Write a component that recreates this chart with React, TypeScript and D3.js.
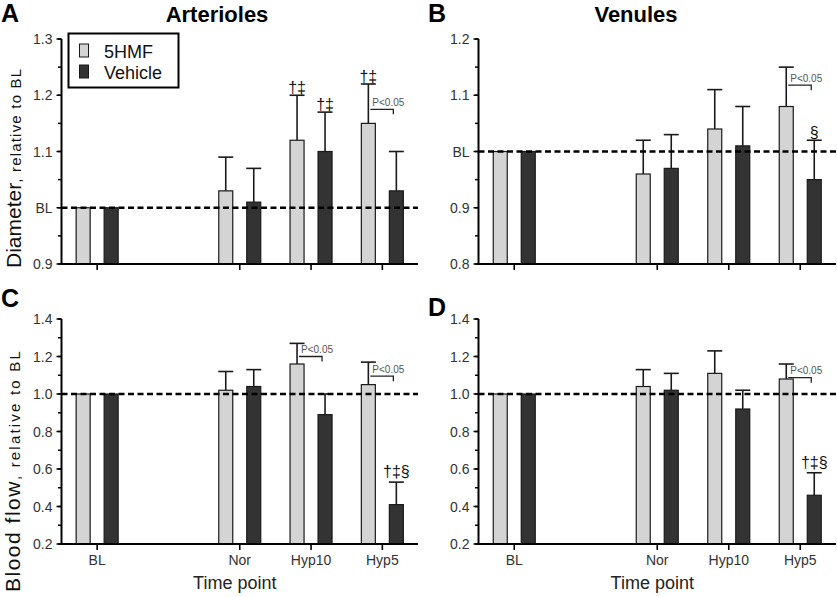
import React from "react";
import * as d3 from "d3";

// ---------- data ----------
const categories = ["BL", "Nor", "Hyp10", "Hyp5"];
const slots = ["BL", "gap", "Nor", "Hyp10", "Hyp5"];
const seriesNames = ["5HMF", "Vehicle"];

const artDiam5HMF = [1.0, 1.03, 1.12, 1.15];
const artDiam5HMFErr = [0, 0.06, 0.08, 0.07];
const artDiamVehicle = [1.0, 1.01, 1.1, 1.03];
const artDiamVehicleErr = [0, 0.06, 0.07, 0.07];

const venDiam5HMF = [1.0, 0.96, 1.04, 1.08];
const venDiam5HMFErr = [0, 0.06, 0.07, 0.07];
const venDiamVehicle = [1.0, 0.97, 1.01, 0.95];
const venDiamVehicleErr = [0, 0.06, 0.07, 0.07];

const artFlow5HMF = [1.0, 1.02, 1.16, 1.05];
const artFlow5HMFErr = [0, 0.1, 0.11, 0.12];
const artFlowVehicle = [1.0, 1.04, 0.89, 0.41];
const artFlowVehicleErr = [0, 0.09, 0.11, 0.12];

const venFlow5HMF = [1.0, 1.04, 1.11, 1.08];
const venFlow5HMFErr = [0, 0.09, 0.12, 0.08];
const venFlowVehicle = [1.0, 1.02, 0.92, 0.46];
const venFlowVehicleErr = [0, 0.09, 0.1, 0.12];

const diamTicksA = [0.9, 1.0, 1.1, 1.2, 1.3];
const diamTickLabelsA = ["0.9", "BL", "1.1", "1.2", "1.3"];
const diamTicksB = [0.8, 0.9, 1.0, 1.1, 1.2];
const diamTickLabelsB = ["0.8", "0.9", "BL", "1.1", "1.2"];
const flowTicks = [0.2, 0.4, 0.6, 0.8, 1.0, 1.2, 1.4];
const flowTickLabels = ["0.2", "0.4", "0.6", "0.8", "1.0", "1.2", "1.4"];

const symbolsA = [
  { cat: "Hyp10", s: 0, text: "†‡" },
  { cat: "Hyp10", s: 1, text: "†‡" },
  { cat: "Hyp5", s: 0, text: "†‡" },
];
const symbolsB = [{ cat: "Hyp5", s: 1, text: "§" }];
const symbolsC = [{ cat: "Hyp5", s: 1, text: "†‡§" }];
const symbolsD = [{ cat: "Hyp5", s: 1, text: "†‡§" }];

const bracketsA = [{ cat: "Hyp5", y: 1.175 }];
const bracketsB = [{ cat: "Hyp5", y: 1.118 }];
const bracketsC = [
  { cat: "Hyp10", y: 1.2 },
  { cat: "Hyp5", y: 1.095 },
];
const bracketsD = [{ cat: "Hyp5", y: 1.087 }];

// ---------- layout ----------
const FONT = "'Liberation Sans', Arial, Helvetica, sans-serif";
const GRAY = "#d4d4d4";
const DARK = "#333333";
const INK = "#111";

type Panel = {
  letter: string;
  letterX: number;
  letterY: number;
  title?: string;
  titleX?: number;
  x0: number;
  x1: number;
  yTop: number;
  yBot: number;
  domain: [number, number];
  ticks: number[];
  tickLabels: string[];
  minorStep: number;
  values: number[][];
  errs: number[][];
  symbols: { cat: string; s: number; text: string }[];
  symOffset: number;
  brackets: { cat: string; y: number }[];
  showXLabels: boolean;
  legend?: boolean;
};

const panels: Panel[] = [
  {
    letter: "A", letterX: 1, letterY: 22, title: "Arterioles", titleX: 217,
    x0: 61.5, x1: 418, yTop: 39, yBot: 264, domain: [0.9, 1.3],
    ticks: diamTicksA, tickLabels: diamTickLabelsA, minorStep: 0.05,
    values: [artDiam5HMF, artDiamVehicle], errs: [artDiam5HMFErr, artDiamVehicleErr],
    symbols: symbolsA, symOffset: 2, brackets: bracketsA, showXLabels: false, legend: true,
  },
  {
    letter: "B", letterX: 428, letterY: 22, title: "Venules", titleX: 636,
    x0: 478.5, x1: 836, yTop: 39, yBot: 264, domain: [0.8, 1.2],
    ticks: diamTicksB, tickLabels: diamTickLabelsB, minorStep: 0.05,
    values: [venDiam5HMF, venDiamVehicle], errs: [venDiam5HMFErr, venDiamVehicleErr],
    symbols: symbolsB, symOffset: 2, brackets: bracketsB, showXLabels: false,
  },
  {
    letter: "C", letterX: 1, letterY: 307,
    x0: 61.5, x1: 418, yTop: 319, yBot: 544, domain: [0.2, 1.4],
    ticks: flowTicks, tickLabels: flowTickLabels, minorStep: 0.1,
    values: [artFlow5HMF, artFlowVehicle], errs: [artFlow5HMFErr, artFlowVehicleErr],
    symbols: symbolsC, symOffset: 5, brackets: bracketsC, showXLabels: true,
  },
  {
    letter: "D", letterX: 428, letterY: 316,
    x0: 478.5, x1: 836, yTop: 319, yBot: 544, domain: [0.2, 1.4],
    ticks: flowTicks, tickLabels: flowTickLabels, minorStep: 0.1,
    values: [venFlow5HMF, venFlowVehicle], errs: [venFlow5HMFErr, venFlowVehicleErr],
    symbols: symbolsD, symOffset: 5, brackets: bracketsD, showXLabels: true,
  },
];

function PanelView({ p }: { p: Panel }) {
  const x = d3.scaleBand<string>().domain(slots).range([p.x0, p.x1]);
  const inner = d3
    .scaleBand<string>()
    .domain(seriesNames)
    .range([-28, 28])
    .paddingInner(0.5)
    .paddingOuter(0.25);
  const y = d3.scaleLinear().domain(p.domain).range([p.yBot, p.yTop]);
  const center = (c: string) => (x(c) as number) + x.bandwidth() / 2;
  const barCenter = (c: string, s: number) =>
    center(c) + (inner(seriesNames[s]) as number) + inner.bandwidth() / 2;

  const minor = d3.range(p.domain[0], p.domain[1] + 1e-9, p.minorStep);
  const bw = inner.bandwidth();

  return (
    <g>
      <text x={p.letterX} y={p.letterY} fontSize={25} fontWeight="bold" fontFamily={FONT} fill="#000">
        {p.letter}
      </text>
      {p.title && (
        <text x={p.titleX} y={22} fontSize={22} fontWeight="bold" fontFamily={FONT} textAnchor="middle" fill="#000">
          {p.title}
        </text>
      )}

      {/* bars */}
      {categories.map((c, i) =>
        seriesNames.map((sn, s) => {
          const v = p.values[s][i];
          const bx = center(c) + (inner(sn) as number);
          return (
            <rect
              key={c + sn}
              x={bx}
              y={y(v)}
              width={bw}
              height={p.yBot - y(v)}
              fill={s === 0 ? GRAY : DARK}
              stroke="#1a1a1a"
              strokeWidth={1.2}
            />
          );
        })
      )}

      {/* error bars */}
      {categories.map((c, i) =>
        seriesNames.map((sn, s) => {
          const e = p.errs[s][i];
          if (!e) return null;
          const v = p.values[s][i];
          const cx = barCenter(c, s);
          return (
            <g key={"e" + c + sn} stroke="#1a1a1a" strokeWidth={1.6}>
              <line x1={cx} x2={cx} y1={y(v)} y2={y(v + e)} />
              <line x1={cx - bw / 2 - 0.5} x2={cx + bw / 2 + 0.5} y1={y(v + e)} y2={y(v + e)} />
            </g>
          );
        })
      )}

      {/* baseline dashed line */}
      <line x1={p.x0} x2={p.x1} y1={y(1)} y2={y(1)} stroke="#000" strokeWidth={2.4} strokeDasharray="6,3.5" />

      {/* symbols */}
      {p.symbols.map((sy, k) => {
        const i = categories.indexOf(sy.cat);
        const top = p.values[sy.s][i] + p.errs[sy.s][i];
        return (
          <text
            key={"sy" + k}
            x={barCenter(sy.cat, sy.s)}
            y={y(top) - p.symOffset}
            fontSize={16}
            fontFamily={FONT}
            textAnchor="middle"
            fill="#111"
          >
            {sy.text}
          </text>
        );
      })}

      {/* brackets */}
      {p.brackets.map((b, k) => {
        const xs = barCenter(b.cat, 0) + 2;
        const xe = barCenter(b.cat, 1) - 3;
        const yy = y(b.y);
        return (
          <g key={"b" + k}>
            <path d={`M${xs},${yy}H${xe}V${yy + 5}`} fill="none" stroke="#222" strokeWidth={1.3} />
            <text x={xs + 2} y={yy - 3.5} fontSize={10} fontFamily={FONT} fill="#555">
              P&lt;0.05
            </text>
          </g>
        );
      })}

      {/* y axis */}
      <line x1={p.x0} x2={p.x0} y1={p.yTop} y2={p.yBot + 1} stroke="#000" strokeWidth={2} />
      {minor.map((t, k) => (
        <line key={"m" + k} x1={p.x0 - 3.5} x2={p.x0} y1={y(t)} y2={y(t)} stroke="#000" strokeWidth={1.5} />
      ))}
      {p.ticks.map((t, k) => (
        <g key={"t" + k}>
          <line x1={p.x0 - 5} x2={p.x0} y1={y(t)} y2={y(t)} stroke="#000" strokeWidth={1.5} />
          <text
            x={p.x0 - 9}
            y={y(t)}
            dy="0.36em"
            fontSize={14}
            fontFamily={FONT}
            textAnchor="end"
            fill="#333"
          >
            {p.tickLabels[k]}
          </text>
        </g>
      ))}

      {/* x axis */}
      <line x1={p.x0 - 1} x2={p.x1} y1={p.yBot} y2={p.yBot} stroke="#000" strokeWidth={2} />
      {categories.map((c) => (
        <g key={"x" + c}>
          <line x1={center(c)} x2={center(c)} y1={p.yBot} y2={p.yBot + 6} stroke="#000" strokeWidth={1.6} />
          {p.showXLabels && (
            <text x={center(c)} y={p.yBot + 21} fontSize={14} fontFamily={FONT} textAnchor="middle" fill="#333">
              {c}
            </text>
          )}
        </g>
      ))}
      {p.showXLabels && (
        <text
          x={(p.x0 + p.x1) / 2 - 5}
          y={589}
          fontSize={18}
          fontFamily={FONT}
          textAnchor="middle"
          fill="#222"
        >
          Time point
        </text>
      )}

      {p.legend && (
        <g>
          <rect x={68.5} y={33.5} width={110} height={54} fill="#fff" stroke="#000" strokeWidth={2} />
          {seriesNames.map((sn, s) => (
            <g key={"lg" + sn}>
              <rect
                x={79.5}
                y={44 + s * 21}
                width={9}
                height={13}
                fill={s === 0 ? GRAY : DARK}
                stroke="#1a1a1a"
                strokeWidth={1}
              />
              <text x={104} y={57.5 + s * 21.5} fontSize={18} fontFamily={FONT} fill="#111">
                {sn}
              </text>
            </g>
          ))}
        </g>
      )}
    </g>
  );
}

export default function App() {
  return (
    <div style={{ position: "fixed", left: 0, top: 0 }}>
      <svg width={837} height={597} style={{ display: "block", background: "#fff" }}>
        <rect width={837} height={597} fill="#fff" />
        {panels.map((p) => (
          <PanelView key={p.letter} p={p} />
        ))}
        <text transform="translate(21,268) rotate(-90)" fontFamily={FONT} fill="#111">
          <tspan fontSize={21}>Diameter</tspan>
          <tspan fontSize={15} letterSpacing={1.2}>, relative to BL</tspan>
        </text>
        <text transform="translate(20,592) rotate(-90)" fontFamily={FONT} fill="#111">
          <tspan fontSize={21} letterSpacing={1.5}>Blood flow</tspan>
          <tspan fontSize={15} letterSpacing={2.2}>, relative to BL</tspan>
        </text>
      </svg>
    </div>
  );
}
